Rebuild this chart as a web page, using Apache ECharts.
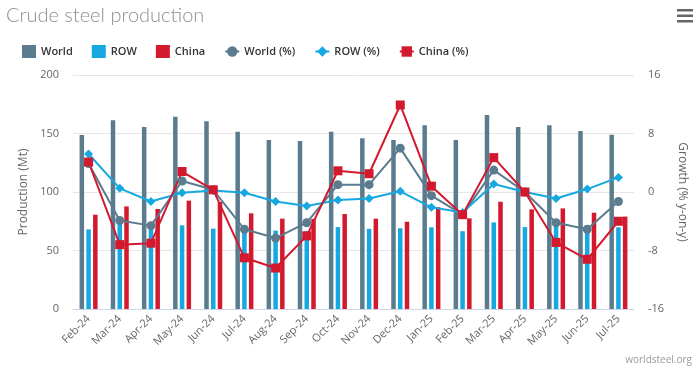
<!DOCTYPE html>
<html><head><meta charset="utf-8">
<script src="https://cdn.jsdelivr.net/npm/echarts@6/dist/echarts.min.js"></script>
<style>html,body{margin:0;padding:0;background:#fff}#c{width:700px;height:374px}</style>
</head><body><div id="c"></div>
<script>
const categories = ['Feb-24','Mar-24','Apr-24','May-24','Jun-24','Jul-24','Aug-24','Sep-24','Oct-24','Nov-24','Dec-24','Jan-25','Feb-25','Mar-25','Apr-25','May-25','Jun-25','Jul-25'];
const world = [148.8,161.3,155.6,164.4,160.5,151.6,144.4,143.6,151.6,146.0,144.4,157.0,144.4,165.8,155.6,157.0,152.1,149.0];
const row = [68.0,73.5,70.0,71.5,68.7,69.0,67.0,66.5,70.0,68.5,69.0,69.8,66.5,74.0,70.0,72.5,68.5,69.8];
const china = [80.6,87.7,85.5,92.6,91.5,81.8,77.2,77.0,81.2,77.2,74.6,86.9,77.5,91.7,85.2,86.0,82.3,79.0];
const worldPct = [3.9,-3.9,-4.6,1.5,0.3,-5.1,-6.3,-4.2,1.0,1.0,6.0,-0.5,-3.1,3.0,0.0,-4.2,-5.1,-1.3];
const rowPct = [5.2,0.5,-1.3,-0.1,0.2,-0.1,-1.3,-1.9,-1.1,-0.9,0.1,-2.1,-2.8,1.1,0.0,-0.9,0.4,2.0];
const chinaPct = [4.1,-7.2,-7.0,2.8,0.3,-9.0,-10.4,-6.0,2.9,2.5,11.9,0.8,-3.1,4.7,0.0,-6.9,-9.2,-4.0];
const leftTicks = {min:0,max:200,interval:50};
const rightTicks = {min:-16,max:16,interval:8};

const cWorld='#5b7b8e', cRow='#16a8e0', cChina='#d2192e';
const chart = echarts.init(document.getElementById('c'));
const font = '"Open Sans", "DejaVu Sans", sans-serif';
chart.setOption({
  animation:false,
  textStyle:{fontFamily:font},
  title:{text:'Crude steel production',left:1,top:1,textStyle:{fontFamily:'Lato, "Open Sans", sans-serif',fontSize:20,fontWeight:300,color:'#8f8f8f'}},
  legend:{left:17,top:40,itemGap:19,itemWidth:14,itemHeight:13,
    textStyle:{fontFamily:font,fontSize:11,fontWeight:600,color:'#333'},
    data:[{name:'World',icon:'rect'},{name:'ROW',icon:'rect'},{name:'China',icon:'rect'},'World (%)','ROW (%)','China (%)']},
  grid:{left:73,right:66,top:75,bottom:65,containLabel:false},
  xAxis:{type:'category',data:categories,
    axisLine:{lineStyle:{color:'#ccd6eb'}},axisTick:{show:false},
    axisLabel:{rotate:45,color:'#666',fontSize:11,fontFamily:font,interval:0,margin:8}},
  yAxis:[
    {type:'value',min:leftTicks.min,max:leftTicks.max,interval:leftTicks.interval,name:'Production (Mt)',nameLocation:'middle',nameGap:40,
      nameTextStyle:{color:'#666',fontSize:12,fontFamily:font},
      axisLabel:{color:'#666',fontSize:11,margin:14},splitLine:{lineStyle:{color:'#e6e6e6'}},axisLine:{show:false},axisTick:{show:false}},
    {type:'value',min:rightTicks.min,max:rightTicks.max,interval:rightTicks.interval,position:'right',name:'Growth (% y-on-y)',nameLocation:'middle',nameGap:42,nameRotate:-90,
      nameTextStyle:{color:'#666',fontSize:12,fontFamily:font},
      axisLabel:{color:'#666',fontSize:11,margin:14},splitLine:{show:false},axisLine:{show:false},axisTick:{show:false}}
  ],
  series:[
    {name:'World',type:'bar',data:world,barWidth:4.5,barGap:'50%',itemStyle:{color:cWorld}},
    {name:'ROW',type:'bar',data:row,barWidth:4.5,barGap:'50%',itemStyle:{color:cRow}},
    {name:'China',type:'bar',data:china,barWidth:4.5,barGap:'50%',itemStyle:{color:cChina}},
    {name:'World (%)',type:'line',yAxisIndex:1,data:worldPct,symbol:'circle',symbolSize:9,lineStyle:{width:2,color:cWorld},itemStyle:{color:cWorld}},
    {name:'ROW (%)',type:'line',yAxisIndex:1,data:rowPct,symbol:'diamond',symbolSize:9,lineStyle:{width:2,color:cRow},itemStyle:{color:cRow}},
    {name:'China (%)',type:'line',yAxisIndex:1,data:chinaPct,symbol:'rect',symbolSize:9,lineStyle:{width:2,color:cChina},itemStyle:{color:cChina}}
  ],
  graphic:[
    {type:'rect',left:677,top:9,shape:{width:16,height:2.5},style:{fill:'#666'}},
    {type:'rect',left:677,top:14.5,shape:{width:16,height:2.5},style:{fill:'#666'}},
    {type:'rect',left:677,top:20,shape:{width:16,height:2.5},style:{fill:'#666'}},
    {type:'text',right:8,top:355,style:{text:'worldsteel.org',fill:'#999',font:'10px '+font}}
  ]
});
</script></body></html>
